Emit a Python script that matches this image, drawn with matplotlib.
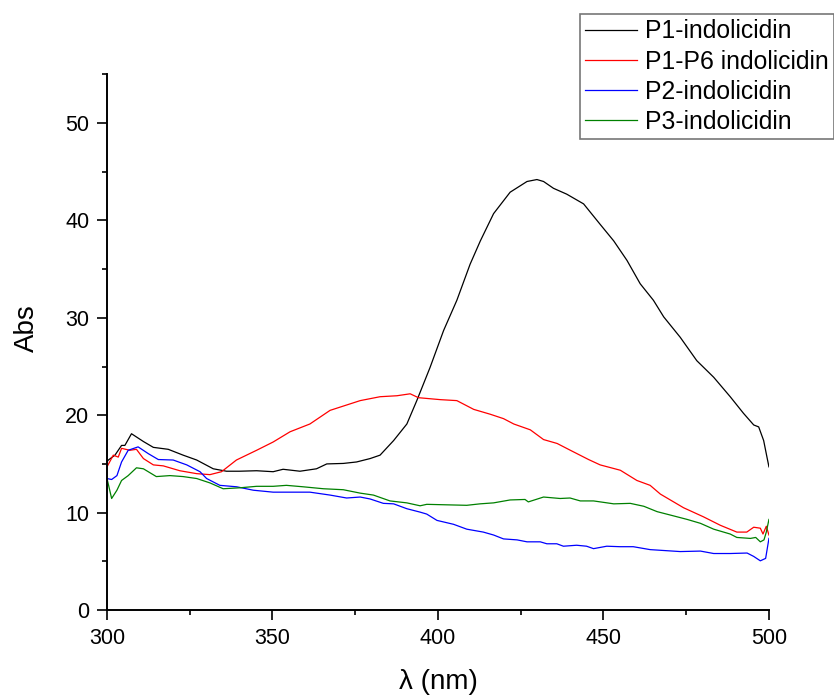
import matplotlib
matplotlib.use("Agg")
import matplotlib.pyplot as plt
from matplotlib.ticker import MultipleLocator

plt.rcParams['font.family'] = ['Liberation Sans', 'DejaVu Sans']

labels = ["P1-indolicidin", "P1-P6 indolicidin", "P2-indolicidin", "P3-indolicidin"]
colors = ["#000000", "#FF0000", "#0000FF", "#008000"]

p1_x = [300, 300.4, 302.4, 304.4, 305.4, 307.4, 311, 314, 318.5, 323, 327.1, 332.1, 336.1, 340,
        345.2, 350.2, 353.2, 358.3, 363.3, 366.4, 371.4, 375.4, 379.5, 382.5, 386.6, 390.6,
        393.6, 397.6, 401.7, 405.7, 409.7, 412.8, 416.8, 421.8, 426.9, 429.9, 431.9, 434.9,
        438.9, 444, 449, 453.1, 457.1, 461.1, 465.1, 468.2, 473.2, 478.2, 483.3, 488.3, 492.3,
        495.4, 496.9, 498.4, 499.4, 500]
p1_y = [15.2, 15.4, 15.9, 16.9, 16.9, 18.1, 17.3, 16.7, 16.5, 15.9, 15.4, 14.5, 14.25, 14.25,
        14.3, 14.2, 14.45, 14.25, 14.5, 15.0, 15.05, 15.2, 15.55, 15.9, 17.4, 19.1,
        21.5, 24.9, 28.7, 31.8, 35.5, 37.9, 40.7, 42.9, 44.0, 44.2, 44.0, 43.3,
        42.7, 41.7, 39.6, 37.9, 35.9, 33.5, 31.8, 30.1, 28.0, 25.6, 23.9, 21.9, 20.2,
        19.0, 18.8, 17.4, 15.7, 14.7]

p16_x = [300, 301.9, 303.4, 304.4, 306.9, 308.9, 311, 314, 317, 322, 327.1, 331.1, 334.6, 339.1,
         345.2, 350.2, 355.3, 361.3, 367.4, 376.5, 382.5, 387.6, 391.6, 394.1, 400.7, 405.7,
         410.8, 415.8, 419.8, 422.9, 427.9, 431.9, 436, 440, 445.5, 449, 455.1, 460.1, 464.1,
         467.2, 474.2, 480.2, 485.3, 490.3, 493.3, 495.4, 497.4, 498.2, 499.2, 500]
p16_y = [14.7, 15.9, 15.7, 16.6, 16.4, 16.5, 15.55, 14.9, 14.8, 14.3, 14.0, 13.9, 14.2, 15.4,
         16.4, 17.25, 18.3, 19.1, 20.5, 21.5, 21.9, 22.0, 22.2, 21.8, 21.6, 21.5,
         20.6, 20.1, 19.65, 19.1, 18.5, 17.5, 17.1, 16.4, 15.45, 14.9, 14.35, 13.3, 12.8,
         11.9, 10.5, 9.57, 8.7, 8.0, 8.0, 8.5, 8.4, 7.8, 8.6, 7.7]

p2_x = [300, 301.4, 303, 304.4, 306.4, 309.4, 312.5, 315.5, 320, 324.1, 328.1, 330.1, 334.1,
        339.2, 344.2, 350.2, 355.3, 361.3, 367.4, 372.4, 376.5, 379.5, 383.5, 386.6, 390.6,
        394.6, 396.6, 399.7, 404.7, 408.7, 413.7, 416.8, 419.8, 423.9, 426.9, 430.9, 432.9,
        435.9, 437.9, 441.9, 444.9, 447, 451, 455, 459, 464.1, 473.2, 479.3, 483.3, 488.3,
        493.4, 495.4, 497.4, 499, 500]
p2_y = [13.5, 13.4, 13.8, 15.2, 16.4, 16.75, 16.05, 15.45, 15.4, 14.9, 14.2, 13.5, 12.8,
        12.65, 12.3, 12.1, 12.1, 12.1, 11.8, 11.5, 11.6, 11.4, 10.95, 10.9, 10.4,
        10.05, 9.85, 9.2, 8.8, 8.3, 8.0, 7.7, 7.3, 7.2, 7.0, 7.0, 6.8,
        6.8, 6.55, 6.65, 6.55, 6.3, 6.55, 6.5, 6.5, 6.2, 6.0, 6.05, 5.8, 5.8,
        5.85, 5.5, 5.05, 5.3, 7.35]

p3_x = [300, 301.4, 303, 304.4, 306.4, 308.9, 311, 314.9, 319, 323, 327.1, 331.1, 335.1, 340.2,
        345.2, 350.2, 354.2, 359.3, 365.4, 371.4, 376.5, 380.5, 385.5, 390.6, 394.6, 396.6,
        402.6, 408.7, 412.7, 416.8, 421.8, 426.3, 427.3, 431.9, 436.9, 439.9, 443, 447, 451.1,
        453.1, 458.1, 462.2, 466.2, 470.2, 475.3, 479.3, 483.3, 488.3, 490.3, 494.4, 496,
        497.4, 498.5, 499.2, 500]
p3_y = [13.5, 11.45, 12.3, 13.3, 13.8, 14.6, 14.5, 13.7, 13.8, 13.7, 13.5, 13.05, 12.45, 12.55,
        12.7, 12.7, 12.8, 12.65, 12.45, 12.35, 12.0, 11.8, 11.2, 11.0, 10.7, 10.85,
        10.8, 10.75, 10.9, 11.0, 11.3, 11.35, 11.1, 11.6, 11.45, 11.5, 11.2, 11.2, 11.0,
        10.9, 10.95, 10.65, 10.1, 9.75, 9.3, 8.9, 8.3, 7.8, 7.45, 7.35, 7.45,
        7.0, 7.2, 8.0, 9.3]

xs = [p1_x, p16_x, p2_x, p3_x]
ys = [p1_y, p16_y, p2_y, p3_y]

fig = plt.figure(figsize=(8.34, 6.95), dpi=100)
ax = fig.add_axes([0.1283, 0.1223, 0.7937, 0.7707])

lines = []
for x, y, c, lab in zip(xs, ys, colors, labels):
    ln, = ax.plot(x, y, color=c, lw=0.9, label=lab)
    lines.append(ln)

ax.set_xlim(300, 500)
ax.set_ylim(0, 55)
ax.xaxis.set_major_locator(MultipleLocator(50))
ax.xaxis.set_minor_locator(MultipleLocator(25))
ax.yaxis.set_minor_locator(MultipleLocator(5))
ax.set_yticks([0, 10, 20, 30, 40, 50])

for s in ['top', 'right']:
    ax.spines[s].set_visible(False)
for s in ['left', 'bottom']:
    ax.spines[s].set_linewidth(1.4)

ax.tick_params(which='major', direction='out', length=7.2, width=1.2, labelsize=15.5, pad=5.5)
ax.tick_params(which='minor', direction='out', length=3.6, width=1.2)

ax.set_xlabel("λ (nm)", fontsize=20, labelpad=15)
ax.set_ylabel("Abs", fontsize=20)
ax.yaxis.set_label_coords(-0.102, 0.5255)

leg = fig.legend(handles=lines, labels=labels, loc='upper left',
                 bbox_to_anchor=(0.6954, 0.980), bbox_transform=fig.transFigure,
                 fontsize=17.8, frameon=True, fancybox=False, handlelength=2.1,
                 handletextpad=0.32, labelspacing=0.25, borderpad=0.22, borderaxespad=0)
leg.get_frame().set_edgecolor('#555555')
leg.get_frame().set_linewidth(1.2)

fig.savefig("out.png", dpi=100)
